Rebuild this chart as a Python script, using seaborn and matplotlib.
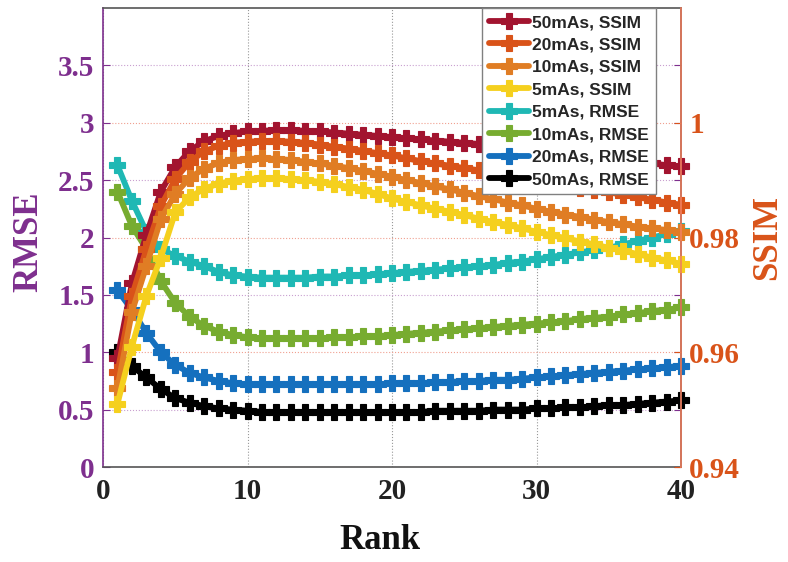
import numpy as np
import pandas as pd
import matplotlib
matplotlib.use('Agg')
import matplotlib.pyplot as plt
import seaborn as sns

# %% data
rank = list(range(1, 41))

ssim_50 = [0.9590, 0.9720, 0.9805, 0.9880, 0.9923, 0.9951, 0.9968, 0.9977, 0.9982, 0.9985,
           0.9986, 0.9987, 0.9987, 0.9986, 0.9985, 0.9983, 0.9981, 0.9979, 0.9977, 0.9975,
           0.9973, 0.9971, 0.9969, 0.9967, 0.9965, 0.9963, 0.9961, 0.9958, 0.9955, 0.9952,
           0.9949, 0.9946, 0.9943, 0.9940, 0.9937, 0.9934, 0.9931, 0.9929, 0.9926, 0.9924]
ssim_20 = [0.9565, 0.9698, 0.9780, 0.9855, 0.9902, 0.9932, 0.9950, 0.9960, 0.9965, 0.9967,
           0.9968, 0.9968, 0.9967, 0.9965, 0.9962, 0.9958, 0.9955, 0.9951, 0.9947, 0.9943,
           0.9938, 0.9933, 0.9929, 0.9925, 0.9921, 0.9917, 0.9912, 0.9908, 0.9904, 0.9900,
           0.9895, 0.9891, 0.9887, 0.9883, 0.9879, 0.9874, 0.9870, 0.9866, 0.9861, 0.9857]
ssim_10 = [0.9538, 0.9670, 0.9750, 0.9832, 0.9876, 0.9904, 0.9920, 0.9930, 0.9935, 0.9937,
           0.9938, 0.9937, 0.9935, 0.9932, 0.9929, 0.9925, 0.9921, 0.9916, 0.9911, 0.9906,
           0.9900, 0.9895, 0.9889, 0.9884, 0.9878, 0.9872, 0.9867, 0.9861, 0.9856, 0.9850,
           0.9845, 0.9840, 0.9836, 0.9831, 0.9827, 0.9823, 0.9819, 0.9816, 0.9813, 0.9810]
ssim_5 = [0.9510, 0.9610, 0.9698, 0.9765, 0.9844, 0.9870, 0.9885, 0.9894, 0.9899, 0.9902,
          0.9903, 0.9903, 0.9902, 0.9900, 0.9897, 0.9893, 0.9888, 0.9883, 0.9876, 0.9868,
          0.9862, 0.9856, 0.9850, 0.9845, 0.9839, 0.9833, 0.9827, 0.9822, 0.9816, 0.9810,
          0.9804, 0.9799, 0.9793, 0.9788, 0.9782, 0.9777, 0.9771, 0.9765, 0.9760, 0.9754]

rmse_5 = [2.63, 2.32, 2.05, 1.90, 1.84, 1.79, 1.75, 1.70, 1.67, 1.66,
          1.65, 1.65, 1.65, 1.65, 1.66, 1.66, 1.67, 1.67, 1.68, 1.69,
          1.70, 1.71, 1.72, 1.73, 1.74, 1.75, 1.76, 1.78, 1.79, 1.81,
          1.83, 1.85, 1.87, 1.89, 1.91, 1.94, 1.97, 2.00, 2.03, 2.06]
rmse_10 = [2.40, 2.10, 1.90, 1.62, 1.43, 1.31, 1.23, 1.18, 1.15, 1.13,
           1.12, 1.12, 1.12, 1.12, 1.12, 1.13, 1.13, 1.14, 1.14, 1.15,
           1.16, 1.17, 1.18, 1.19, 1.20, 1.21, 1.22, 1.23, 1.24, 1.25,
           1.26, 1.27, 1.29, 1.30, 1.31, 1.33, 1.34, 1.36, 1.37, 1.39]
rmse_20 = [1.54, 1.37, 1.17, 1.00, 0.89, 0.82, 0.78, 0.75, 0.73, 0.72,
           0.72, 0.72, 0.72, 0.72, 0.72, 0.72, 0.72, 0.72, 0.72, 0.73,
           0.73, 0.73, 0.74, 0.74, 0.75, 0.75, 0.76, 0.76, 0.77, 0.78,
           0.79, 0.80, 0.81, 0.82, 0.83, 0.84, 0.85, 0.86, 0.87, 0.88]
rmse_50 = [1.00, 0.88, 0.78, 0.68, 0.60, 0.56, 0.53, 0.51, 0.50, 0.49,
           0.48, 0.48, 0.48, 0.48, 0.48, 0.48, 0.48, 0.48, 0.48, 0.48,
           0.48, 0.48, 0.49, 0.49, 0.49, 0.49, 0.50, 0.50, 0.50, 0.51,
           0.51, 0.52, 0.52, 0.53, 0.54, 0.54, 0.55, 0.56, 0.57, 0.58]

ssim_series = [('50mAs, SSIM', ssim_50, '#A2142F'),
               ('20mAs, SSIM', ssim_20, '#D95319'),
               ('10mAs, SSIM', ssim_10, '#E07D24'),
               ('5mAs, SSIM', ssim_5, '#F5D01E')]
rmse_series = [('5mAs, RMSE', rmse_5, '#1FB8B4'),
               ('10mAs, RMSE', rmse_10, '#77AC30'),
               ('20mAs, RMSE', rmse_20, '#1570BE'),
               ('50mAs, RMSE', rmse_50, '#000000')]

rmse_ticks = [0, 0.5, 1, 1.5, 2, 2.5, 3, 3.5]
rmse_labels = ['0', '0.5', '1', '1.5', '2', '2.5', '3', '3.5']
ssim_ticks = [0.94, 0.96, 0.98, 1.0]
ssim_labels = ['0.94', '0.96', '0.98', '1']
x_ticks = [0, 10, 20, 30, 40]

# %% style
sns.set_style('white')
plt.rcParams['font.family'] = ['Liberation Serif', 'DejaVu Serif']
purple = '#7E2F8E'
orange = '#D95319'


def draw(ax, series):
    for name, vals, color in series:
        sns.lineplot(x=rank, y=vals, ax=ax, color=color, lw=4.2, marker='P',
                     markersize=11, label=name, clip_on=False)
    for line in ax.lines:
        c = line.get_color()
        line.set_marker('P')
        line.set_markerfacecolor(c)
        line.set_markeredgecolor(c)
        line.set_markeredgewidth(0.8)
    if ax.get_legend() is not None:
        ax.get_legend().remove()


fig = plt.figure(figsize=(7.88, 5.62), dpi=100)
ax = fig.add_axes([103 / 788, (562 - 467) / 562, 578 / 788, 459 / 562])
ax2 = ax.twinx()

draw(ax, rmse_series)
draw(ax2, ssim_series)

ax.set_xlim(0, 40)
ax.set_ylim(0, 4)
ax2.set_ylim(0.94, 1.02)

ax.set_xticks(x_ticks)
ax.set_xticklabels([str(t) for t in x_ticks], fontsize=21, fontweight='bold', color='#222222')
ax.set_yticks(rmse_ticks)
ax.set_yticklabels(rmse_labels, fontsize=21, fontweight='bold', color=purple)
ax2.set_yticks(ssim_ticks)
ax2.set_yticklabels(ssim_labels, fontsize=21, fontweight='bold', color=orange)

ax.tick_params(axis='x', direction='in', length=5, color='#555555', pad=8)
ax.tick_params(axis='y', direction='in', length=5, color=purple, right=True, pad=6)
ax2.tick_params(axis='y', direction='in', length=5, color=orange, pad=6)

# grid: gray vertical, purple / orange horizontal
ax.grid(True, axis='x', color='#999999', ls=':', lw=0.8)
ax.grid(True, axis='y', color='#c9a0d0', ls=':', lw=0.8)
for t, v in zip(ax.yaxis.get_major_ticks(), rmse_ticks):
    if float(v).is_integer():
        t.gridline.set_color('#f0a090')

ax.spines['left'].set_color(purple)
ax.spines['bottom'].set_color('#555555')
ax.spines['top'].set_color('#555555')
ax2.spines['right'].set_color('#f08060')
for s in ['left', 'top', 'bottom']:
    ax2.spines[s].set_visible(False)
for s in ax.spines.values():
    s.set_linewidth(1.2)
ax2.spines['right'].set_linewidth(1.2)

ax.set_xlabel('Rank', fontsize=25, fontweight='bold', color='#111111')
ax.xaxis.set_label_coords((380 - 103) / 578, -0.125)
ax.set_ylabel('RMSE', fontsize=25, fontweight='bold', color=purple)
ax.yaxis.set_label_coords(-0.1, 0.49)
ax2.set_ylabel('SSIM', fontsize=25, fontweight='bold', color=orange)
ax2.yaxis.set_label_coords(1.121, 0.5)

# legend: SSIM first, then RMSE
h1, l1 = ax2.get_legend_handles_labels()
h2, l2 = ax.get_legend_handles_labels()
leg = ax2.legend(h1 + h2, l1 + l2, loc='upper right', bbox_to_anchor=(0.957, 1.0),
                 borderaxespad=0,
                 prop={'family': 'Liberation Sans', 'size': 12.5, 'weight': 'bold'},
                 handlelength=2.3, handletextpad=0.2, labelspacing=0.42,
                 borderpad=0.4, fancybox=False, framealpha=1, edgecolor='#808080')
leg.get_frame().set_linewidth(1.0)

plt.savefig('out.png', dpi=100)
